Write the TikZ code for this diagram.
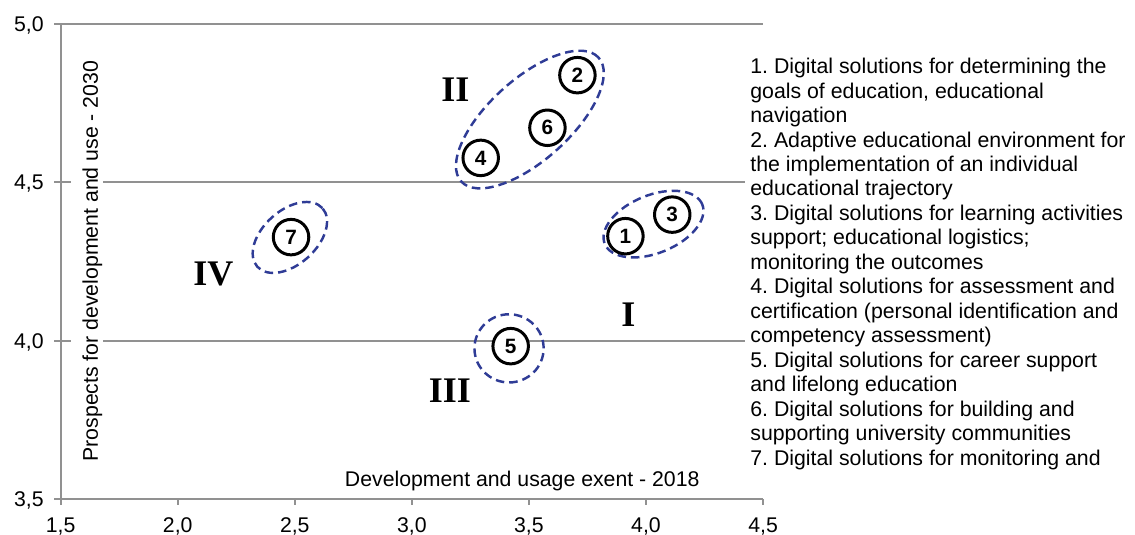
\documentclass[tikz,border=0pt]{standalone}
\usepackage{fontspec}
\setmainfont{Liberation Serif}
\setsansfont{Liberation Sans}
\usetikzlibrary{shapes.geometric}
\frenchspacing

\definecolor{axisgray}{RGB}{145,145,145}
\definecolor{ovalblue}{RGB}{47,60,150}

\begin{document}
\begin{tikzpicture}[x=0.02cm, y=-0.02cm,
    gridline/.style={draw=axisgray, line width=1.15pt},
    numcircle/.style={circle, draw=black, fill=white, line width=1.7pt, minimum size=0.71cm, inner sep=0pt,
        font=\sffamily\bfseries\fontsize{11.8pt}{12pt}\selectfont},
    groupoval/.style={ellipse, draw=ovalblue, line width=1.4pt, dash pattern=on 0.17cm off 0.1cm, inner sep=0pt},
    quadlabel/.style={font=\rmfamily\bfseries\fontsize{20.5pt}{22pt}\selectfont, inner sep=0pt},
    ticklabel/.style={font=\sffamily\fontsize{12.1pt}{14pt}\selectfont, inner sep=0pt}]

    \useasboundingbox (0,0) rectangle (1135,534);

    % chart area, in data units
    \begin{scope}[shift={(-290.6,1608.5)}, x=4.684cm, y=6.34cm]
        % Grid lines and axes
        \foreach \v in {4.0,4.5,5.0}
            \draw[gridline] (1.5,\v) -- (4.5,\v);
        \draw[gridline] (1.5,3.5) -- (4.5,3.5);
        \draw[gridline] (1.5,3.5) -- (1.5,5.0);

        % Ticks
        \foreach \v/\lab [count=\k] in {1.5/{1,5}, 2.0/{2,0}, 2.5/{2,5}, 3.0/{3,0}, 3.5/{3,5}, 4.0/{4,0}, 4.5/{4,5}} {
            \draw[gridline] (\v,3.5) -- ++(0,-0.12cm);
            \node[ticklabel, anchor=base] (xt\k) at ([yshift=-0.66cm]\v,3.5) {\lab};
        }
        \foreach \v/\lab [count=\k] in {3.5/{3,5}, 4.0/{4,0}, 4.5/{4,5}, 5.0/{5,0}} {
            \draw[gridline] (1.5,\v) -- ++(-0.14cm,0);
            \node[ticklabel, anchor=base east] (yt\k) at ([xshift=-0.334cm, yshift=-0.152cm]1.5,\v) {\lab};
        }

        % Axis titles
        \node[ticklabel, anchor=base east] (xlab) at (4.230,3.539) {Development and usage exent - 2018};
        \node[ticklabel, rotate=90, anchor=base, fill=white, text height=0.53cm, text depth=0.09cm, inner ysep=0.01cm]
            (ylab) at (1.659,4.251) {Prospects for development and use - 2030};

        % Groups
        \node[groupoval, minimum width=2.104cm, minimum height=1.16cm, rotate=22] (gI) at (4.032,4.368) {};
        \node[groupoval, minimum width=3.70cm, minimum height=1.624cm, rotate=42] (gII) at (3.504,4.698) {};
        \node[groupoval, minimum width=1.384cm, minimum height=1.364cm] (gIII) at (3.415,3.976) {};
        \node[groupoval, minimum width=1.752cm, minimum height=1.076cm, rotate=42] (gIV) at (2.479,4.326) {};

        % Solutions
        \node[numcircle] (n1) at (3.912,4.330) {1};
        \node[numcircle] (n2) at (3.707,4.838) {2};
        \node[numcircle] (n3) at (4.112,4.398) {3};
        \node[numcircle] (n4) at (3.294,4.577) {4};
        \node[numcircle] (n5) at (3.422,3.983) {5};
        \node[numcircle] (n6) at (3.579,4.672) {6};
        \node[numcircle] (n7) at (2.484,4.327) {7};

        % Quadrants
        \node[quadlabel] (qI) at (3.925,4.081) {I};
        \node[quadlabel] (qII) at (3.186,4.793) {II};
        \node[quadlabel] (qIII) at (3.162,3.841) {III};
        \node[quadlabel] (qIV) at (2.152,4.210) {IV};
    \end{scope}

    % Legend
    \node[anchor=north west, fill=white, inner xsep=0.1cm, inner ysep=0pt, align=left,
        font=\sffamily\fontsize{12.12pt}{13.94pt}\selectfont] (legend) at (745,57.75) {%
        1. Digital solutions for determining the\\
        goals of education, educational\\
        navigation\\
        2. Adaptive educational environment for\\
        the implementation of an individual\\
        educational trajectory\\
        3. Digital solutions for learning activities\\
        support; educational logistics;\\
        monitoring the outcomes\\
        4. Digital solutions for assessment and\\
        certification (personal identification and\\
        competency assessment)\\
        5. Digital solutions for career support\\
        and lifelong education\\
        6. Digital solutions for building and\\
        supporting university communities\\
        7. Digital solutions for monitoring and};
\end{tikzpicture}
\end{document}
